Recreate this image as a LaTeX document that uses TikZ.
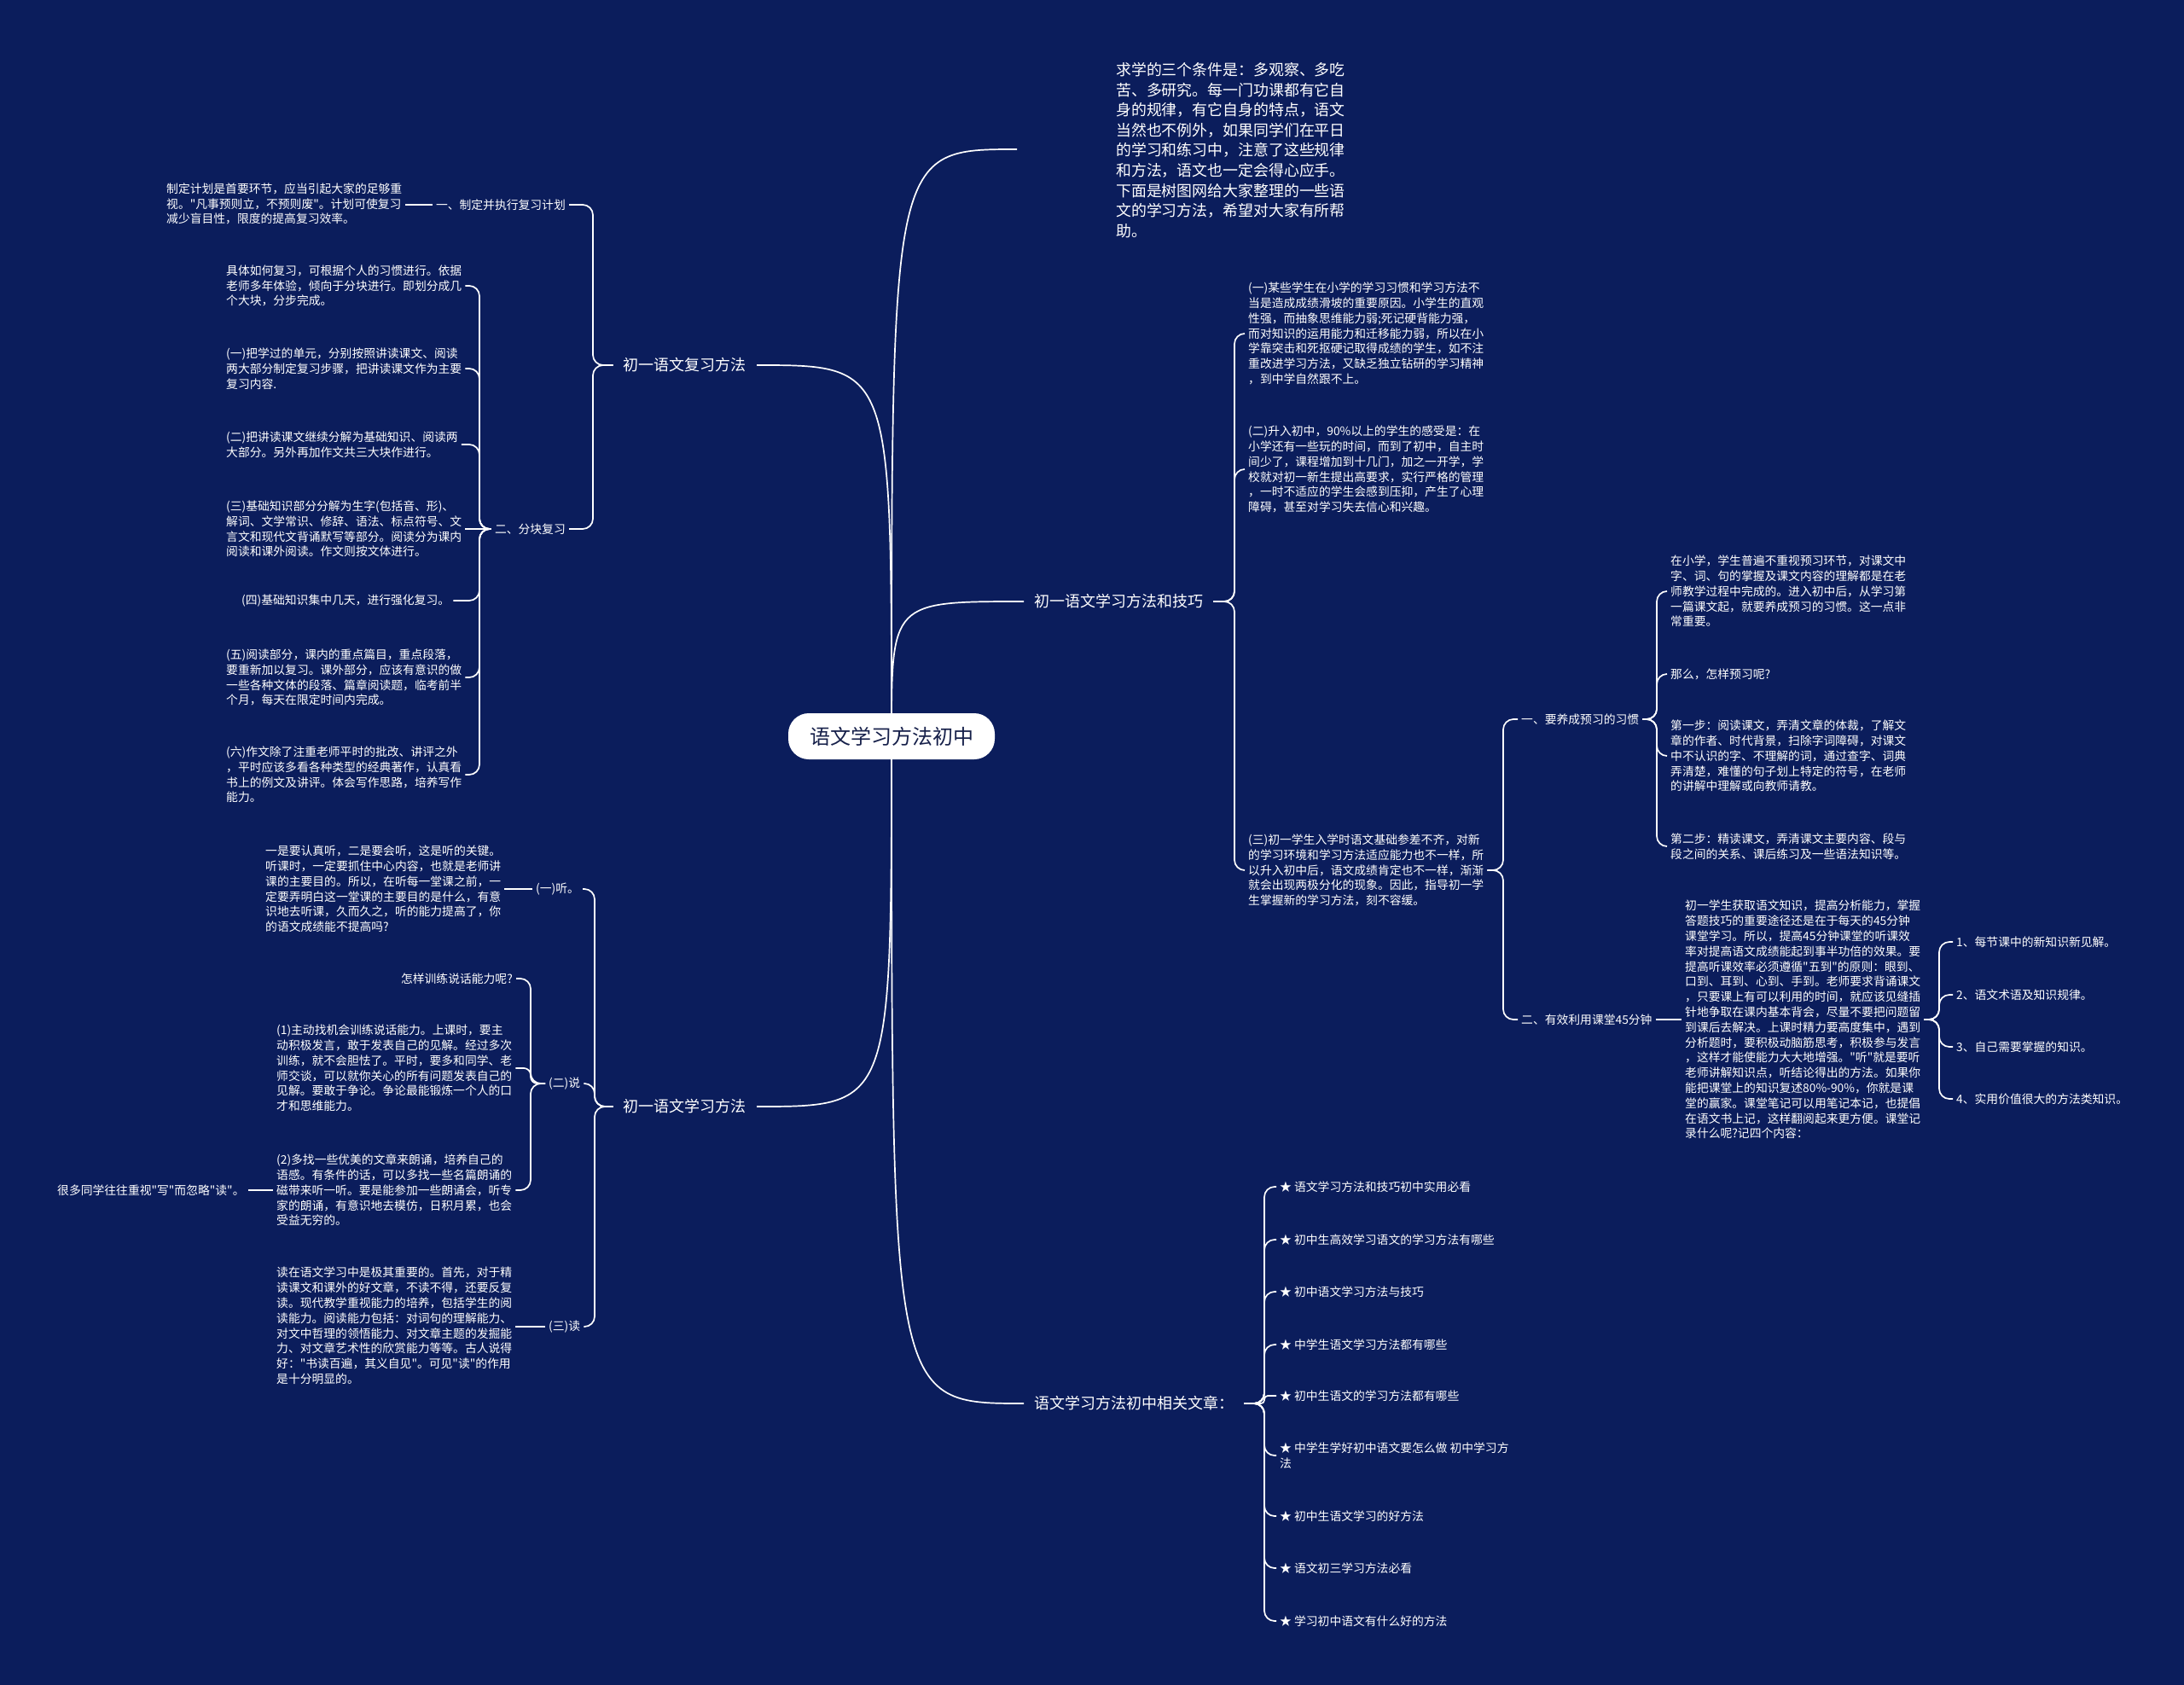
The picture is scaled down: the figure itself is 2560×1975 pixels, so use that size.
\documentclass[tikz,border=0pt]{standalone}
\usepackage{fontspec}
\newfontfamily\cjk{Noto Sans CJK SC}
\usetikzlibrary{calc}
\pgfdeclarelayer{back}
\pgfdeclarelayer{wires}
\pgfsetlayers{back,wires,main}
\definecolor{bgnavy}{HTML}{0B1D5C}
\definecolor{ink}{HTML}{16204A}
\begin{document}
\begin{tikzpicture}[x=1pt,y=-1pt,
  txt/.style={text=white,inner xsep=4pt,inner ysep=2pt,align=left,font=\cjk\fontsize{13.8}{17.8}\selectfont},
  lw/.style={txt,anchor=west},
  le/.style={txt,anchor=east},
  big/.style={text=white,inner xsep=12pt,inner ysep=4pt,font=\cjk\fontsize{18}{22}\selectfont},
  wire/.style={draw=white,line width=1.7pt},
  brace/.style={wire,rounded corners=12pt}]

\begin{pgfonlayer}{back}
\fill[bgnavy] (0,0) rectangle (2560,1975);
\end{pgfonlayer}
\useasboundingbox (0,0) rectangle (2560,1975);

% centre
\node[fill=white,rounded corners=24pt,minimum width=242pt,minimum height=54pt,text=ink,font=\cjk\fontsize{24}{28}\selectfont] (ctr) at (1045,863) {语文学习方法初中};

% intro
\coordinate (introend) at (1192,175);
\node[anchor=west,text=white,inner sep=0pt,align=left,font=\cjk\fontsize{17.9}{23.6}\selectfont] (intro) at (1308,176) {求学的三个条件是：多观察、多吃\\苦、多研究。每一门功课都有它自\\身的规律，有它自身的特点，语文\\当然也不例外，如果同学们在平日\\的学习和练习中，注意了这些规律\\和方法，语文也一定会得心应手。\\下面是树图网给大家整理的一些语\\文的学习方法，希望对大家有所帮\\助。};

% main branches
\node[big,anchor=east] (b1) at (887,428) {初一语文复习方法};
\node[big,anchor=west] (b2) at (1200,705) {初一语文学习方法和技巧};
\node[big,anchor=east] (b3) at (887,1297) {初一语文学习方法};
\node[big,anchor=west] (b4) at (1200,1645) {语文学习方法初中相关文章：};

% branch 1
\node[le] (a1) at (667,240) {一、制定并执行复习计划};
\node[lw] (a1p) at (191,239) {制定计划是首要环节，应当引起大家的足够重\\视。"凡事预则立，不预则废"。计划可使复习\\减少盲目性，限度的提高复习效率。};
\node[le] (a2) at (667,620) {二、分块复习};
\node[lw] (c1) at (261,335) {具体如何复习，可根据个人的习惯进行。依据\\老师多年体验，倾向于分块进行。即划分成几\\个大块，分步完成。};
\node[lw] (c2) at (261,432) {(一)把学过的单元，分别按照讲读课文、阅读\\两大部分制定复习步骤，把讲读课文作为主要\\复习内容.};
\node[lw] (c3) at (261,521) {(二)把讲读课文继续分解为基础知识、阅读两\\大部分。另外再加作文共三大块作进行。};
\node[lw] (c4) at (261,620) {(三)基础知识部分分解为生字(包括音、形)、\\解词、文学常识、修辞、语法、标点符号、文\\言文和现代文背诵默写等部分。阅读分为课内\\阅读和课外阅读。作文则按文体进行。};
\node[lw] (c5) at (279,704) {(四)基础知识集中几天，进行强化复习。};
\node[lw] (c6) at (261,794) {(五)阅读部分，课内的重点篇目，重点段落，\\要重新加以复习。课外部分，应该有意识的做\\一些各种文体的段落、篇章阅读题，临考前半\\个月，每天在限定时间内完成。};
\node[lw] (c7) at (261,908) {(六)作文除了注重老师平时的批改、讲评之外\\，平时应该多看各种类型的经典著作，认真看\\书上的例文及讲评。体会写作思路，培养写作\\能力。};

% branch 3
\node[lw] (d1) at (624,1042) {(一)听。};
\node[lw] (d2) at (639,1270) {(二)说};
\node[lw] (d3) at (639,1555) {(三)读};
\node[lw] (d1p) at (307,1042) {一是要认真听，二是要会听，这是听的关键。\\听课时，一定要抓住中心内容，也就是老师讲\\课的主要目的。所以，在听每一堂课之前，一\\定要弄明白这一堂课的主要目的是什么，有意\\识地去听课，久而久之，听的能力提高了，你\\的语文成绩能不提高吗?};
\node[le] (e1) at (605,1147) {怎样训练说话能力呢?};
\node[lw] (e2) at (320,1252) {(1)主动找机会训练说话能力。上课时，要主\\动积极发言，敢于发表自己的见解。经过多次\\训练，就不会胆怯了。平时，要多和同学、老\\师交谈，可以就你关心的所有问题发表自己的\\见解。要敢于争论。争论最能锻炼一个人的口\\才和思维能力。};
\node[lw] (e3) at (320,1395) {(2)多找一些优美的文章来朗诵，培养自己的\\语感。有条件的话，可以多找一些名篇朗诵的\\磁带来听一听。要是能参加一些朗诵会，听专\\家的朗诵，有意识地去模仿，日积月累，也会\\受益无穷的。};
\node[lw] (e3c) at (63,1395) {很多同学往往重视"写"而忽略"读"。};
\node[lw] (d3p) at (320,1554) {读在语文学习中是极其重要的。首先，对于精\\读课文和课外的好文章，不读不得，还要反复\\读。现代教学重视能力的培养，包括学生的阅\\读能力。阅读能力包括：对词句的理解能力、\\对文中哲理的领悟能力、对文章主题的发掘能\\力、对文章艺术性的欣赏能力等等。古人说得\\好："书读百遍，其义自见"。可见"读"的作用\\是十分明显的。};

% branch 2
\node[lw] (p1) at (1459,391) {(一)某些学生在小学的学习习惯和学习方法不\\当是造成成绩滑坡的重要原因。小学生的直观\\性强，而抽象思维能力弱;死记硬背能力强，\\而对知识的运用能力和迁移能力弱，所以在小\\学靠突击和死抠硬记取得成绩的学生，如不注\\重改进学习方法，又缺乏独立钻研的学习精神\\，到中学自然跟不上。};
\node[lw] (p2) at (1459,550) {(二)升入初中，90\%以上的学生的感受是：在\\小学还有一些玩的时间，而到了初中，自主时\\间少了，课程增加到十几门，加之一开学，学\\校就对初一新生提出高要求，实行严格的管理\\，一时不适应的学生会感到压抑，产生了心理\\障碍，甚至对学习失去信心和兴趣。};
\node[lw] (p3) at (1459,1020) {(三)初一学生入学时语文基础参差不齐，对新\\的学习环境和学习方法适应能力也不一样，所\\以升入初中后，语文成绩肯定也不一样，渐渐\\就会出现两极分化的现象。因此，指导初一学\\生掌握新的学习方法，刻不容缓。};
\node[lw] (f1) at (1779,843) {一、要养成预习的习惯};
\node[lw] (f2) at (1779,1195) {二、有效利用课堂45分钟};
\node[lw] (q1) at (1954,693) {在小学，学生普遍不重视预习环节，对课文中\\字、词、句的掌握及课文内容的理解都是在老\\师教学过程中完成的。进入初中后，从学习第\\一篇课文起，就要养成预习的习惯。这一点非\\常重要。};
\node[lw] (q2) at (1954,790) {那么，怎样预习呢?};
\node[lw] (q3) at (1954,886) {第一步：阅读课文，弄清文章的体裁，了解文\\章的作者、时代背景，扫除字词障碍，对课文\\中不认识的字、不理解的词，通过查字、词典\\弄清楚，难懂的句子划上特定的符号，在老师\\的讲解中理解或向教师请教。};
\node[lw] (q4) at (1954,992) {第二步：精读课文，弄清课文主要内容、段与\\段之间的关系、课后练习及一些语法知识等。};
\node[lw] (r1) at (1971,1195) {初一学生获取语文知识，提高分析能力，掌握\\答题技巧的重要途径还是在于每天的45分钟\\课堂学习。所以，提高45分钟课堂的听课效\\率对提高语文成绩能起到事半功倍的效果。要\\提高听课效率必须遵循"五到"的原则：眼到、\\口到、耳到、心到、手到。老师要求背诵课文\\，只要课上有可以利用的时间，就应该见缝插\\针地争取在课内基本背会，尽量不要把问题留\\到课后去解决。上课时精力要高度集中，遇到\\分析题时，要积极动脑筋思考，积极参与发言\\，这样才能使能力大大地增强。"听"就是要听\\老师讲解知识点，听结论得出的方法。如果你\\能把课堂上的知识复述80\%-90\%，你就是课\\堂的赢家。课堂笔记可以用笔记本记，也提倡\\在语文书上记，这样翻阅起来更方便。课堂记\\录什么呢?记四个内容：};
\node[lw] (s1) at (2289,1104) {1、每节课中的新知识新见解。};
\node[lw] (s2) at (2289,1166) {2、语文术语及知识规律。};
\node[lw] (s3) at (2289,1227) {3、自己需要掌握的知识。};
\node[lw] (s4) at (2289,1288) {4、实用价值很大的方法类知识。};

% branch 4
\node[lw] (k1) at (1496,1391) {★ 语文学习方法和技巧初中实用必看};
\node[lw] (k2) at (1496,1453) {★ 初中生高效学习语文的学习方法有哪些};
\node[lw] (k3) at (1496,1514) {★ 初中语文学习方法与技巧};
\node[lw] (k4) at (1496,1576) {★ 中学生语文学习方法都有哪些};
\node[lw] (k5) at (1496,1636) {★ 初中生语文的学习方法都有哪些};
\node[lw] (k6) at (1496,1706) {★ 中学生学好初中语文要怎么做 初中学习方\\法};
\node[lw] (k7) at (1496,1777) {★ 初中生语文学习的好方法};
\node[lw] (k8) at (1496,1838) {★ 语文初三学习方法必看};
\node[lw] (k9) at (1496,1900) {★ 学习初中语文有什么好的方法};

% bracket x positions
\coordinate (xb1) at (695,0);
\coordinate (xa2) at (562,0);
\coordinate (xb3) at (697,0);
\coordinate (xd2) at (622,0);
\coordinate (xb2) at (1447,0);
\coordinate (xp3) at (1762,0);
\coordinate (xf1) at (1942,0);
\coordinate (xr1) at (2273,0);
\coordinate (xb4) at (1482,0);

\begin{pgfonlayer}{wires}
% main curves
\draw[wire] (ctr.center) .. controls (ctr.center |- introend) .. (introend);
\draw[wire] (ctr.center) .. controls (ctr.center |- b1.east) .. (b1.east);
\draw[wire] (ctr.center) .. controls (ctr.center |- b2.west) .. (b2.west);
\draw[wire] (ctr.center) .. controls (ctr.center |- b3.east) .. (b3.east);
\draw[wire] (ctr.center) .. controls (ctr.center |- b4.west) .. (b4.west);

% left brackets
\foreach \nm in {a1,a2} \draw[brace] (b1.west) -- (b1.west -| xb1) |- (\nm.east);
\draw[wire] (a1.west) -- (a1.west -| a1p.east);
\foreach \nm in {c1,c2,c3,c5,c6,c7} \draw[brace] (a2.west) -- (a2.west -| xa2) |- (\nm.east);
\draw[wire] (a2.west) -- (a2.west -| c4.east);
\foreach \nm in {d1,d2,d3} \draw[brace] (b3.west) -- (b3.west -| xb3) |- (\nm.east);
\draw[wire] (d1.west) -- (d1.west -| d1p.east);
\foreach \nm in {e1,e3} \draw[brace] (d2.west) -- (d2.west -| xd2) |- (\nm.east);
\draw[wire,rounded corners=8pt] (d2.west) -- (d2.west -| xd2) |- (e2.east);
\draw[wire] (e3.west) -- (e3.west -| e3c.east);
\draw[wire] (d3.west) -- (d3.west -| d3p.east);

% right brackets
\foreach \nm in {p1,p2,p3} \draw[brace] (b2.east) -- (b2.east -| xb2) |- (\nm.west);
\foreach \nm in {f1,f2} \draw[brace] (p3.east) -- (p3.east -| xp3) |- (\nm.west);
\foreach \nm in {q1,q2,q3,q4} \draw[brace] (f1.east) -- (f1.east -| xf1) |- (\nm.west);
\draw[wire] (f2.east) -- (f2.east -| r1.west);
\foreach \nm in {s1,s2,s3,s4} \draw[brace] (r1.east) -- (r1.east -| xr1) |- (\nm.west);
\foreach \nm in {k1,k2,k3,k4,k6,k7,k8,k9} \draw[brace] (b4.east) -- (b4.east -| xb4) |- (\nm.west);
\draw[wire,rounded corners=4pt] (b4.east) -- (b4.east -| xb4) |- (k5.west);
\end{pgfonlayer}
\end{tikzpicture}
\end{document}
